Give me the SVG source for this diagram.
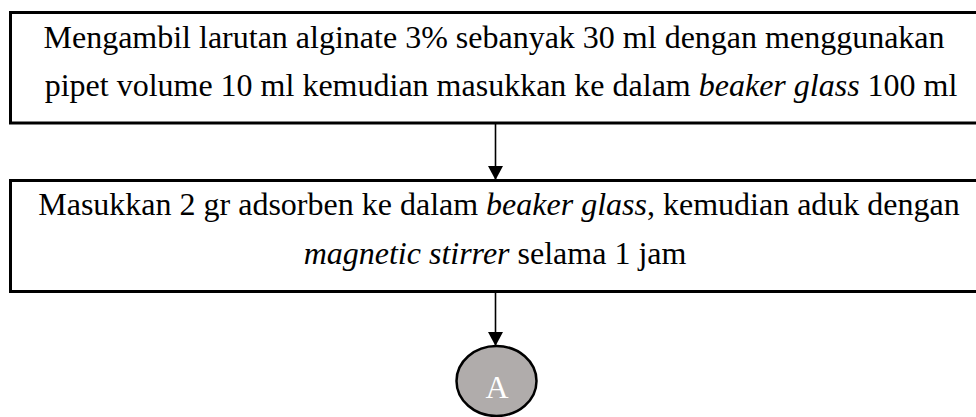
<svg xmlns="http://www.w3.org/2000/svg" width="976" height="417" viewBox="0 0 976 417">
  <style>
    .box { fill: #ffffff; stroke: #000000; stroke-width: 3; }
    .txt { font-family: "Liberation Serif", "Times New Roman", serif; font-size: 32px; fill: #000000; text-anchor: middle; }
    .it { font-style: italic; }
    .conn { stroke: #000000; stroke-width: 1.6; fill: none; }
    .conn-node { fill: #b0acab; stroke: #000000; stroke-width: 2.5; }
    .conn-label { font-family: "Liberation Serif", "Times New Roman", serif; font-size: 32px; fill: #ffffff; text-anchor: middle; }
  </style>
  <defs>
    <marker id="arrowBig" viewBox="0 0 14 15" refX="14" refY="7.5" markerWidth="14" markerHeight="15" markerUnits="userSpaceOnUse" orient="auto">
      <path d="M0,0 L14,7.5 L0,15 z" fill="#000000"/>
    </marker>
  </defs>

  <g id="step1">
    <rect class="box" x="10.5" y="12.5" width="980" height="110.5"/>
    <text class="txt" x="494" y="48">Mengambil larutan alginate 3% sebanyak 30 ml dengan menggunakan</text>
    <text class="txt" x="501" y="96">pipet volume 10 ml kemudian masukkan ke dalam <tspan class="it">beaker glass</tspan> 100 ml</text>
  </g>

  <g id="step2">
    <rect class="box" x="10.5" y="180.5" width="980" height="111"/>
    <text class="txt" x="499" y="215">Masukkan 2 gr adsorben ke dalam <tspan class="it">beaker glass</tspan>, kemudian aduk dengan</text>
    <text class="txt" x="495" y="264"><tspan class="it">magnetic stirrer</tspan> selama 1 jam</text>
  </g>

  <g id="connector-A">
    <ellipse class="conn-node" cx="496.5" cy="381" rx="40" ry="35"/>
    <text class="conn-label" x="497" y="398">A</text>
  </g>

  <g id="connectors">
    <line class="conn" x1="495.5" y1="124" x2="495.5" y2="180" marker-end="url(#arrowBig)"/>
    <line class="conn" x1="495.5" y1="293" x2="495.5" y2="346" marker-end="url(#arrowBig)"/>
  </g>
</svg>
